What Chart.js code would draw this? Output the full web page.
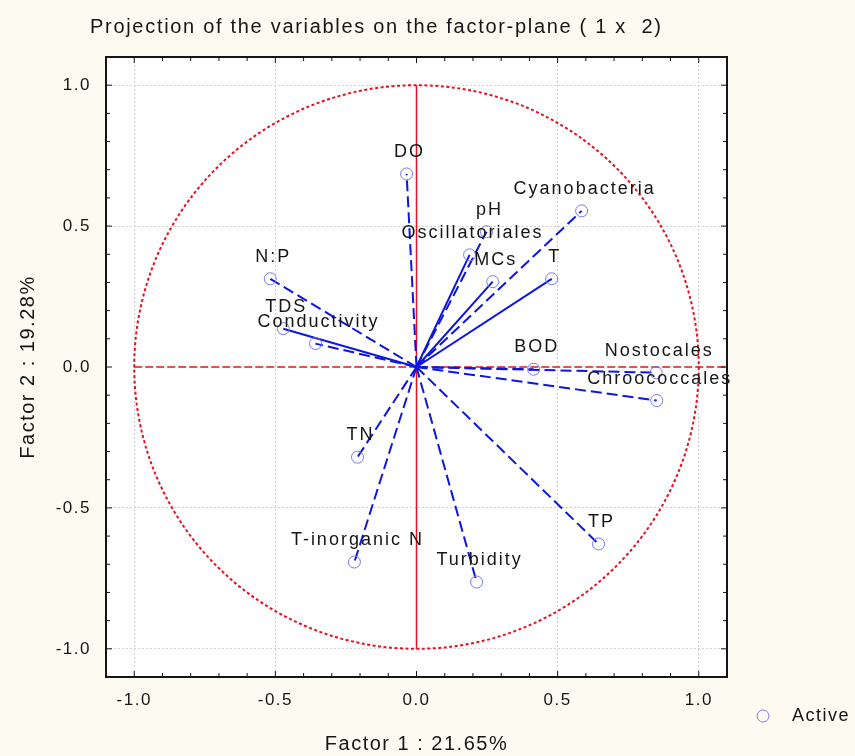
<!DOCTYPE html>
<html>
<head>
<meta charset="utf-8">
<script src="https://cdn.jsdelivr.net/npm/chart.js@4/dist/chart.umd.min.js"></script>
<style>
    html, body { margin: 0; padding: 0; background: #fdfaf2; }
    #wrap { position: relative; width: 855px; height: 756px; }
</style>
</head>
<body>
<div id="wrap"><canvas id="chart"></canvas></div>
<script>
var variables = ['DO', 'Cyanobacteria', 'pH', 'Oscillatoriales', 'MCs', 'T', 'BOD', 'Nostocales',
    'Chroococcales', 'TP', 'Turbidity', 'T-inorganic N', 'TN', 'N:P', 'TDS', 'Conductivity'];
var factor1 = [-0.035, 0.585, 0.248, 0.188, 0.270, 0.479, 0.415, 0.849,
    0.851, 0.645, 0.213, -0.220, -0.209, -0.518, -0.472, -0.358];
var factor2 = [0.685, 0.554, 0.480, 0.398, 0.303, 0.313, -0.008, -0.020,
    -0.119, -0.628, -0.763, -0.692, -0.320, 0.313, 0.136, 0.083];
var solidVariables = ['Oscillatoriales', 'MCs', 'T', 'TDS'];
var axisLabels = [-1.0, -0.5, 0.0, 0.5, 1.0];
var titleText = 'Projection of the variables on the factor-plane ( 1 x  2)';
var xTitle = 'Factor 1 : 21.65%';
var yTitle = 'Factor 2 : 19.28%';
var legendLabel = 'Active';

(function () {
    var FONT = "'Liberation Sans', Arial, sans-serif";
    var INK = '#151515';
    Chart.defaults.font.family = FONT;

    function onLabel(v) {
        return axisLabels.some(function (a) { return Math.abs(a - v) < 1e-6; });
    }

    var lineSets = variables.map(function (name, i) {
        var solid = solidVariables.indexOf(name) >= 0;
        return {
            label: name,
            data: [{ x: 0, y: 0 }, { x: factor1[i], y: factor2[i] }],
            showLine: true,
            borderColor: '#0c16e0',
            borderWidth: 2,
            borderDash: solid ? [] : [11, 5],
            pointRadius: 0,
            pointHoverRadius: 0,
            order: 1
        };
    });
    var activeSet = {
        label: legendLabel,
        data: variables.map(function (n, i) { return { x: factor1[i], y: factor2[i] }; }),
        pointRadius: 6,
        pointBorderColor: '#7a7aee',
        pointBackgroundColor: 'rgba(0,0,0,0)',
        pointBorderWidth: 1,
        order: 0
    };

    function axis(title, pos, tickPad, titlePad, size) {
        return {
            type: 'linear',
            position: pos,
            min: -1.1,
            max: 1.1,
            afterFit: function (s) {
                if (pos === 'left') { s.width = size; } else { s.height = size; }
            },
            ticks: {
                stepSize: 0.1,
                autoSkip: false,
                maxRotation: 0,
                color: INK,
                padding: tickPad,
                font: { size: 17 },
                callback: function (v) { return onLabel(v) ? (Math.round(v * 2) / 2).toFixed(1) : ''; }
            },
            grid: {
                drawTicks: false,
                lineWidth: 1,
                color: function (c) {
                    return c.tick && onLabel(c.tick.value) && Math.abs(c.tick.value) > 1e-6 ? '#d2d2d2' : 'rgba(0,0,0,0)';
                }
            },
            border: { display: false, dash: [2, 2] },
            title: { display: true, text: title, color: INK, font: { size: 20 }, padding: { top: titlePad, bottom: 0 } }
        };
    }

    var decor = {
        id: 'decor',
        beforeDraw: function (chart) {
            var ctx = chart.ctx, a = chart.chartArea;
            ctx.letterSpacing = '1.5px';
            ctx.save();
            ctx.fillStyle = '#ffffff';
            ctx.fillRect(a.left, a.top, a.right - a.left, a.bottom - a.top);
            ctx.restore();
        },
        beforeDatasetsDraw: function (chart) {
            var ctx = chart.ctx, a = chart.chartArea, xs = chart.scales.x, ys = chart.scales.y;
            var cx = xs.getPixelForValue(0), cy = ys.getPixelForValue(0);
            ctx.save();
            ctx.strokeStyle = '#e8101e';
            ctx.lineWidth = 2;
            ctx.setLineDash([3, 2.5]);
            ctx.beginPath();
            ctx.ellipse(cx, cy, xs.getPixelForValue(1) - cx, cy - ys.getPixelForValue(1), 0, 0, Math.PI * 2);
            ctx.stroke();
            ctx.lineWidth = 1.5;
            ctx.setLineDash([8, 3]);
            ctx.beginPath();
            ctx.moveTo(xs.getPixelForValue(-1), cy);
            ctx.lineTo(a.right, cy);
            ctx.stroke();
            ctx.setLineDash([]);
            ctx.beginPath();
            ctx.moveTo(cx, ys.getPixelForValue(1));
            ctx.lineTo(cx, ys.getPixelForValue(-1));
            ctx.stroke();
            ctx.restore();
        },
        afterDatasetsDraw: function (chart) {
            var ctx = chart.ctx, xs = chart.scales.x, ys = chart.scales.y;
            ctx.save();
            ctx.font = '18px ' + FONT;
            ctx.letterSpacing = '2px';
            ctx.fillStyle = INK;
            ctx.textAlign = 'center';
            ctx.textBaseline = 'middle';
            variables.forEach(function (name, i) {
                ctx.fillText(name, xs.getPixelForValue(factor1[i]) + 3, ys.getPixelForValue(factor2[i]) - 22);
            });
            ctx.restore();
        },
        afterDraw: function (chart) {
            var ctx = chart.ctx, a = chart.chartArea, xs = chart.scales.x, ys = chart.scales.y;
            ctx.save();
            ctx.strokeStyle = INK;
            ctx.lineWidth = 1;
            ctx.beginPath();
            xs.ticks.forEach(function (t) {
                if (Math.abs(t.value) > 1.05) return;
                var p = xs.getPixelForValue(t.value), len = onLabel(t.value) ? 6 : 4;
                ctx.moveTo(p, a.bottom); ctx.lineTo(p, a.bottom - len);
                ctx.moveTo(p, a.top); ctx.lineTo(p, a.top + len);
            });
            ys.ticks.forEach(function (t) {
                if (Math.abs(t.value) > 1.05) return;
                var p = ys.getPixelForValue(t.value), len = onLabel(t.value) ? 6 : 4;
                ctx.moveTo(a.left, p); ctx.lineTo(a.left + len, p);
                ctx.moveTo(a.right, p); ctx.lineTo(a.right - len, p);
            });
            ctx.stroke();
            ctx.lineWidth = 2;
            ctx.strokeRect(a.left, a.top, a.right - a.left, a.bottom - a.top);

            ctx.fillStyle = INK;
            ctx.font = '20px ' + FONT;
            ctx.letterSpacing = '1.7px';
            ctx.textBaseline = 'middle';
            ctx.textAlign = 'left';
            ctx.fillText(titleText, 90, 27);

            var lx = a.right + 36, ly = a.bottom + 39;
            ctx.strokeStyle = activeSet.pointBorderColor;
            ctx.lineWidth = 1;
            ctx.beginPath();
            ctx.arc(lx, ly, 6, 0, Math.PI * 2);
            ctx.stroke();
            ctx.font = '18px ' + FONT;
            ctx.letterSpacing = '1.5px';
            ctx.fillText(legendLabel, lx + 29, ly);
            ctx.restore();
        }
    };

    new Chart(document.getElementById('chart'), {
        type: 'scatter',
        data: { datasets: [activeSet].concat(lineSets) },
        options: {
            responsive: true,
            maintainAspectRatio: false,
            animation: false,
            layout: { padding: { top: 57, right: 128, bottom: 0, left: 0 } },
            plugins: { legend: { display: false }, title: { display: false }, tooltip: { enabled: false } },
            scales: {
                x: axis(xTitle, 'bottom', 13, 1, 79),
                y: axis(yTitle, 'left', 15, 16, 106)
            }
        },
        plugins: [decor]
    });
})();
</script>
</body>
</html>
